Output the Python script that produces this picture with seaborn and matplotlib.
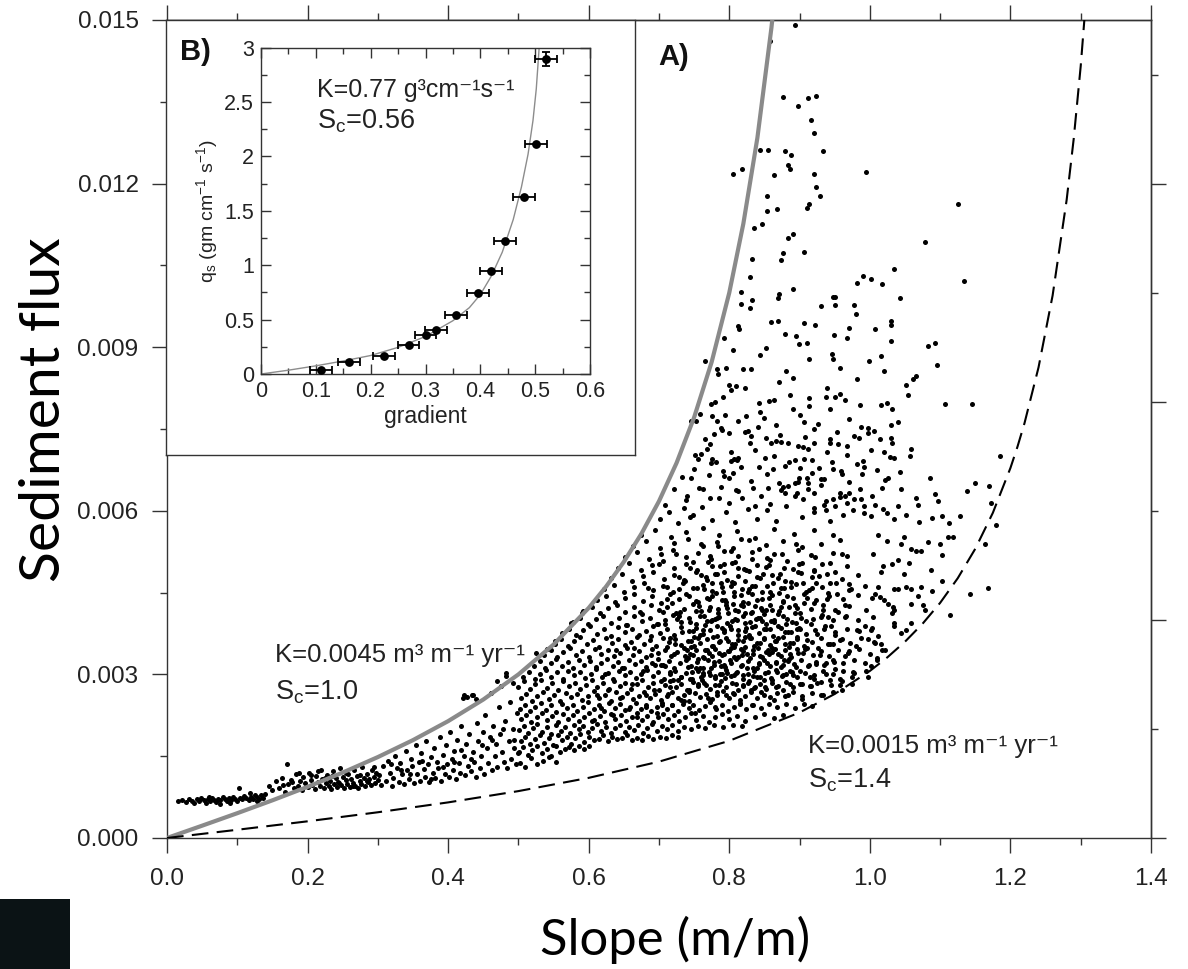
import numpy as np
import pandas as pd
import matplotlib
matplotlib.use("Agg")
import matplotlib.pyplot as plt
import seaborn as sns
from matplotlib.patches import Rectangle
from matplotlib.ticker import MultipleLocator

# ---------------- model curves (main panel A) ----------------
gray_slope = [0.0, 0.05, 0.1, 0.15, 0.2, 0.25, 0.3, 0.35, 0.4, 0.45, 0.5, 0.55, 0.6, 0.625,
              0.65, 0.675, 0.7, 0.725, 0.75, 0.775, 0.8, 0.82, 0.84, 0.86, 0.865]
gray_flux = [0.0, 0.000226, 0.000455, 0.000691, 0.000938, 0.0012, 0.001484, 0.001795, 0.002143,
             0.002539, 0.003, 0.003548, 0.004219, 0.004615, 0.005065, 0.00558, 0.006176, 0.006878,
             0.007714, 0.008732, 0.01, 0.011264, 0.01284, 0.014862, 0.01546]
dash_slope = [0.0, 0.1, 0.2, 0.3, 0.4, 0.5, 0.6, 0.7, 0.8, 0.9, 0.95, 1.0, 1.025, 1.05, 1.075, 1.1,
              1.125, 1.15, 1.175, 1.2, 1.21, 1.22, 1.24, 1.26, 1.28, 1.29, 1.3, 1.31]
dash_flux = [0.0, 0.000151, 0.000306, 0.000472, 0.000653, 0.00086, 0.001103, 0.0014, 0.001782,
             0.002301, 0.002641, 0.003063, 0.003314, 0.0036, 0.003929, 0.004312, 0.004763, 0.005304,
             0.005963, 0.006785, 0.007174, 0.007606, 0.008631, 0.009947, 0.011702, 0.012817,
             0.014155, 0.01579]

# ---------------- inset (panel B) ----------------
grad = [0.109, 0.160, 0.225, 0.269, 0.300, 0.319, 0.356, 0.395, 0.419, 0.445, 0.480, 0.502, 0.519]
qs = [0.04, 0.107, 0.17, 0.27, 0.36, 0.40, 0.545, 0.744, 0.949, 1.227, 1.625, 2.115, 2.896]
grad_err = [0.02, 0.02, 0.02, 0.02, 0.02, 0.02, 0.02, 0.02, 0.02, 0.02, 0.02, 0.02, 0.02]
qs_err = [0, 0, 0, 0, 0, 0, 0, 0, 0, 0, 0, 0, 0.06]
fit_grad = [0.0, 0.05, 0.1, 0.15, 0.2, 0.25, 0.3, 0.35, 0.38, 0.4, 0.42, 0.44, 0.46, 0.475,
            0.487, 0.496, 0.502, 0.507, 0.51]
fit_qs = [0.0, 0.035, 0.075, 0.12, 0.17, 0.245, 0.345, 0.49, 0.61, 0.73, 0.9, 1.12, 1.42, 1.72,
          2.02, 2.33, 2.62, 2.98, 3.2]

# ---------------- scatter points: pairs (slope x1000, flux x1e5) ----------------
band_a = [16,67, 22,70, 27,66, 31,72, 35,68, 38,64, 42,71, 45,67, 49,73, 52,69, 55,65, 58,71, 61,68,
          64,74, 67,70, 70,66, 73,72, 76,69, 79,75, 82,71, 85,67, 88,73, 91,70, 94,76, 97,72, 100,68,
          103,92, 104,74, 107,71, 110,77, 113,73, 116,69, 119,76, 122,72, 125,79, 128,75, 131,71,
          134,78, 137,74, 140,81, 60,76, 75,63, 90,65, 118,82, 128,68]
band_b = [145,96, 150,88, 155,104, 160,92, 163,110, 168,85, 171,136, 172,99, 176,107, 180,91, 183,118,
          186,96, 189,104, 192,88, 194,112, 197,100, 200,93, 202,120, 205,106, 207,97, 210,89, 212,114,
          215,102, 217,95, 219,125, 221,108, 224,92, 226,100, 228,116, 230,96, 232,105, 234,90, 236,122,
          238,99, 240,110, 242,94, 244,103, 246,128, 248,97, 250,112, 252,91, 254,106, 256,99, 258,118,
          260,94, 262,108, 264,101, 266,124, 268,96, 270,113, 272,92, 274,105, 276,99, 278,130, 280,110,
          282,95, 284,118, 286,102, 288,108, 290,97, 292,125, 294,112, 296,100, 298,120, 300,106,
          205,116, 215,123, 225,110, 235,114, 245,100, 255,120, 265,95, 275,115, 285,104, 295,131,
          188,120, 178,102, 165,97]
band_c = [302,115, 305,98, 308,132, 311,105, 314,142, 317,120, 320,96, 322,110, 325,150, 327,128,
          330,103, 332,138, 335,117, 337,99, 340,160, 342,125, 344,108, 347,145, 349,132, 351,100,
          354,170, 356,118, 358,140, 360,105, 362,155, 365,126, 367,112, 369,178, 371,135, 373,102,
          375,148, 378,120, 380,165, 382,110, 384,140, 386,128, 388,185, 390,105, 392,152, 395,118,
          397,170, 399,135, 401,112, 403,195, 405,145, 407,125, 409,160, 411,108, 413,180, 415,138,
          417,120, 419,205, 421,257, 422,150, 424,115, 426,172, 428,132, 430,190, 432,122, 434,263,
          435,158, 437,140, 439,112, 441,210, 443,178, 445,128, 447,150, 449,195, 451,118, 453,225,
          455,165, 457,138, 459,185, 461,266, 462,125, 464,205, 466,150, 468,172, 470,130, 472,240,
          474,190, 475,278, 477,158, 479,140, 481,215, 482,297, 484,128, 486,178, 488,250, 490,145,
          492,200, 494,165, 496,135, 498,230, 500,155, 318,135, 333,125, 346,118, 363,142, 376,108,
          393,130, 408,140, 418,162, 433,145, 448,170, 463,180, 478,200, 493,180,
          423,263, 427,258, 436,262, 440,255, 470,287, 483,303, 525,340, 541,347, 552,362, 575,395,
          590,412]
cloud_low = [502,138, 510,131, 518,146, 527,135, 535,142, 544,149, 553,140,
             501,158, 507,166, 514,153, 520,162, 527,169, 533,156, 540,164, 546,151, 553,168, 559,157,
             566,163, 572,167, 579,161, 586,168, 593,164, 601,169,
             503,178, 510,186, 517,172, 523,182, 530,189, 536,175, 543,184, 549,171, 556,188, 562,179,
             569,185, 575,173, 581,183, 588,190, 594,176, 601,186, 607,179, 614,181, 620,189, 627,177,
             633,185, 640,182, 647,183, 654,188, 661,179, 668,184, 676,180, 684,187, 692,182, 701,186,
             710,183, 718,188, 727,185,
             501,198, 508,205, 514,192, 521,201, 527,209, 534,195, 540,204, 547,191, 553,207, 560,197,
             566,203, 573,193, 579,208, 586,199, 592,205, 599,194, 605,202, 612,209, 618,196, 625,204,
             631,192, 638,201, 644,208, 651,195, 657,203, 664,198, 670,207, 677,193, 683,202, 690,209,
             697,197, 704,205, 711,200, 719,207, 727,196, 736,204, 745,199, 755,206, 766,201, 778,207,
             791,203, 805,208, 818,205,
             504,218, 511,226, 518,213, 526,222, 533,229, 541,216, 548,224, 556,212, 563,228, 571,219,
             578,225, 586,214, 593,221, 601,229, 608,217, 616,224, 623,212, 631,227, 638,219, 646,225,
             653,214, 661,222, 668,229, 676,216, 683,224, 691,213, 698,221, 706,228, 713,218, 721,225,
             729,214, 737,222, 745,229, 753,217, 762,224, 771,213, 780,221, 790,227, 800,218, 811,224,
             823,215, 836,222, 850,228, 864,220, 877,226,
             502,236, 509,244, 517,232, 524,241, 532,248, 539,235, 547,243, 554,231, 562,246, 569,238,
             577,244, 584,233, 592,240, 599,249, 607,236, 614,243, 622,232, 629,247, 637,239, 644,245,
             652,234, 659,241, 667,248, 674,237, 682,244, 689,233, 697,240, 704,247, 712,236, 719,243,
             727,232, 734,246, 742,238, 749,244, 757,235, 765,242, 773,249, 781,237, 789,244, 798,233,
             806,240, 815,247, 824,236, 834,243, 845,238, 856,246, 868,240, 880,245, 893,239, 906,246,
             918,242,
             503,256, 511,264, 519,252, 527,261, 535,268, 543,255, 551,263, 559,251, 567,266, 575,258,
             583,264, 591,253, 599,260, 607,269, 615,256, 623,263, 631,252, 639,267, 647,259, 655,265,
             663,254, 671,261, 679,268, 687,257, 695,264, 703,253, 711,260, 719,267, 727,256, 735,263,
             743,252, 751,266, 759,258, 767,264, 775,255, 783,262, 791,269, 799,257, 807,264, 815,253,
             823,260, 831,267, 840,256, 849,263, 858,258, 868,266, 879,260, 891,267, 904,261, 918,266,
             933,262, 947,267,
             492,284, 500,276, 508,288, 516,273, 524,282, 532,289, 540,275, 548,284, 556,271, 564,287,
             572,278, 580,285, 588,273, 596,281, 604,289, 612,276, 620,284, 628,272, 636,287, 644,279,
             652,285, 660,274, 668,282, 676,289, 684,277, 692,284, 700,272, 708,280, 716,287, 724,276,
             732,283, 740,271, 748,286, 756,278, 764,284, 772,274, 780,281, 788,288, 796,277, 804,284,
             812,272, 820,280, 828,287, 836,276, 844,283, 852,273, 861,285, 870,279, 880,286, 891,276,
             903,283, 916,278, 930,286, 945,281, 960,287, 975,283]
cloud_mid = [507,296, 515,305, 523,292, 531,301, 539,308, 547,295, 555,304, 563,291, 571,307, 579,298,
             587,304, 595,293, 603,300, 611,309, 619,296, 627,303, 635,292, 643,307, 651,299, 659,305,
             667,294, 675,301, 683,308, 691,297, 699,304, 707,292, 715,300, 723,307, 731,296, 739,303,
             747,291, 755,306, 763,298, 771,304, 779,294, 787,301, 795,308, 803,297, 811,304, 819,292,
             827,300, 835,307, 843,296, 851,303, 859,293, 868,305, 877,299, 887,306, 897,296, 908,303,
             920,298, 933,306, 947,300, 962,307, 978,302, 994,306,
             522,316, 530,324, 538,312, 546,321, 554,328, 562,315, 570,323, 578,311, 586,327, 594,318,
             602,324, 610,313, 618,320, 626,329, 634,316, 642,323, 650,312, 658,327, 666,319, 674,325,
             682,314, 690,321, 698,328, 706,317, 714,324, 722,312, 730,320, 738,327, 746,316, 754,323,
             762,311, 770,326, 778,318, 786,324, 794,314, 802,321, 810,328, 818,317, 826,324, 834,312,
             842,320, 850,327, 858,316, 866,323, 874,313, 883,325, 892,319, 902,326, 912,316, 923,323,
             935,318, 948,326, 962,320, 977,327, 993,321, 1010,326,
             537,336, 546,344, 555,332, 564,341, 573,348, 582,335, 591,343, 600,331, 609,347, 618,338,
             627,344, 636,333, 645,340, 654,349, 663,336, 672,343, 681,332, 690,347, 699,339, 708,345,
             717,334, 726,341, 735,348, 744,337, 753,344, 762,332, 771,340, 780,347, 789,336, 798,343,
             807,331, 816,346, 825,338, 834,344, 843,334, 852,341, 861,348, 870,337, 879,344, 888,332,
             898,340, 908,347, 919,336, 930,343, 942,333, 955,345, 969,339, 984,346, 1000,337, 1017,344,
             552,356, 561,364, 570,352, 579,361, 588,368, 597,355, 606,363, 615,351, 624,367, 633,358,
             642,364, 651,353, 660,360, 669,369, 678,356, 687,363, 696,352, 705,367, 714,359, 723,365,
             732,354, 741,361, 750,368, 759,357, 768,364, 777,352, 786,360, 795,367, 804,356, 813,363,
             822,351, 831,366, 840,358, 849,364, 858,354, 867,361, 876,368, 886,357, 896,364, 907,352,
             918,360, 930,367, 943,356, 957,363, 972,358, 988,366, 1006,359,
             562,376, 572,384, 582,372, 592,381, 602,388, 612,375, 622,383, 632,371, 642,387, 652,378,
             662,384, 672,373, 682,380, 692,389, 702,376, 712,383, 722,372, 732,387, 742,379, 752,385,
             762,374, 772,381, 782,388, 792,377, 802,384, 812,372, 822,380, 832,387, 842,376, 852,383,
             862,371, 873,386, 884,378, 896,384, 909,374, 922,381, 936,388, 951,377, 967,384, 984,379,
             1003,386,
             577,396, 588,404, 599,392, 610,401, 621,408, 632,395, 643,403, 654,391, 665,407, 676,398,
             687,404, 698,393, 709,400, 720,409, 731,396, 742,403, 753,392, 764,407, 775,399, 786,405,
             797,394, 808,401, 819,408, 830,397, 841,404, 852,392, 864,400, 876,407, 889,396, 902,403,
             916,393, 931,405, 947,399, 964,406, 983,400, 1004,406,
             592,416, 604,424, 616,412, 628,421, 640,428, 652,415, 664,423, 676,411, 688,427, 700,418,
             712,424, 724,413, 736,420, 748,429, 760,416, 772,423, 784,412, 796,427, 808,419, 820,425,
             832,414, 845,421, 858,428, 871,417, 885,424, 900,412, 916,420, 933,427, 951,418, 971,425,
             994,419]
cloud_high = [612,436, 625,444, 638,432, 651,441, 664,448, 677,435, 690,443, 703,431, 716,447, 729,438,
              742,444, 755,433, 768,440, 781,449, 794,436, 807,443, 820,432, 833,447, 847,439, 861,445,
              876,434, 891,441, 907,448, 924,437, 942,444, 962,438, 983,445, 1003,440,
              622,456, 636,464, 650,452, 664,461, 678,468, 692,455, 706,463, 720,451, 734,467, 748,458,
              762,464, 776,453, 790,460, 804,469, 818,456, 832,463, 847,452, 862,467, 878,459, 895,465,
              913,454, 932,461, 952,468, 973,457, 993,463,
              632,476, 647,484, 662,472, 677,481, 692,488, 707,475, 722,483, 737,471, 752,487, 767,478,
              782,484, 797,473, 812,480, 828,489, 844,476, 861,483, 879,472, 898,487, 918,479, 939,485,
              961,475, 983,482,
              642,496, 658,504, 674,492, 690,501, 706,508, 722,495, 738,503, 754,491, 770,507, 787,498,
              804,504, 821,493, 839,500, 858,509, 878,496, 899,503, 921,492, 944,505, 967,499,
              652,516, 669,524, 686,512, 703,521, 720,528, 738,515, 756,523, 774,511, 793,527, 812,518,
              832,524, 853,513, 875,520, 898,529, 922,516, 947,523, 968,518,
              663,536, 682,544, 701,532, 721,541, 741,548, 762,535, 783,543, 805,531, 828,547, 852,538,
              877,544, 903,533, 930,540, 957,546,
              674,556, 695,564, 717,552, 739,561, 762,568, 786,555, 811,563, 837,551, 864,567, 892,558,
              921,564, 948,555]
core_pts = [681,262, 694,318, 703,287, 712,351, 719,243, 725,402, 731,296, 737,333, 742,268, 748,379,
            752,311, 757,425, 761,289, 766,344, 770,257, 774,398, 778,322, 782,371, 786,281, 790,436,
            793,338, 797,302, 801,389, 805,265, 808,355, 812,417, 816,316, 819,278, 823,368, 827,452,
            830,330, 834,297, 838,401, 841,349, 845,268, 849,384, 853,321, 857,441, 861,289, 865,362,
            869,410, 873,334, 877,272, 881,393, 885,351, 889,305, 893,427, 897,368, 901,283, 905,340,
            909,398, 913,317, 917,459, 921,292, 925,375, 929,336, 933,418, 937,301, 941,356, 945,389,
            949,323, 953,447, 957,281, 961,365, 966,408, 971,342, 976,305, 981,381,
            688,371, 697,229, 706,415, 715,276, 722,338, 729,456, 735,251, 741,313, 746,362, 751,229,
            755,283, 759,407, 764,330, 768,474, 772,299, 776,352, 780,241, 784,420, 788,316, 792,381,
            795,262, 799,343, 803,462, 807,298, 811,399, 815,246, 818,335, 822,413, 826,284, 829,366,
            833,243, 836,425, 840,311, 844,357, 848,484, 851,276, 855,344, 859,398, 863,253, 867,321,
            871,449, 875,297, 879,378, 883,262, 887,337, 891,493, 895,314, 899,386, 903,255, 907,431,
            911,349, 915,278, 919,402, 923,319, 927,480, 931,263, 935,384, 939,438, 943,289, 947,355,
            951,310, 955,414, 960,272, 965,333, 970,455, 975,296, 980,352,
            605,215, 612,262, 618,238, 623,301, 629,274, 634,226, 639,344, 644,256, 648,312, 653,391,
            657,237, 661,283, 665,349, 669,222, 673,415, 677,306, 681,241, 685,458, 689,335, 693,271,
            697,392, 700,502, 704,243, 708,316, 712,439, 716,366, 720,289, 724,521, 728,408, 732,253,
            736,474, 740,345, 744,292, 748,507, 752,434, 756,366, 760,540, 764,457, 768,398, 772,517,
            776,443, 780,485, 784,536, 788,468, 792,503, 797,422, 802,527, 807,452, 812,495, 817,548,
            822,471, 827,431, 832,511, 837,462, 842,530, 847,419, 852,497, 858,452, 864,521, 870,476,
            876,433, 882,508, 888,461, 895,540, 902,486, 909,452, 916,519, 924,468, 932,503, 941,449,
            950,487, 960,521, 970,466,
            741,330, 744,396, 747,305, 750,352, 753,417, 756,329, 759,372, 762,302, 765,391, 768,345,
            771,418, 774,312, 777,369, 780,297, 783,404, 786,340, 789,386, 792,318, 795,433, 798,361,
            801,327, 804,398, 807,351, 810,303, 813,381, 816,428, 819,342, 822,394, 825,311, 828,372,
            831,413, 834,337, 837,389, 840,296, 843,403, 846,332, 849,367, 852,419, 855,305, 858,384,
            861,341, 864,396, 867,308, 870,367, 873,424, 876,318, 879,355, 882,402, 885,329, 888,378,
            891,299, 894,412, 897,347, 900,383]
core_extra = [703,318, 708,392, 713,264, 718,431, 723,355, 727,289, 733,377, 738,447, 743,272, 749,335,
              754,458, 758,312, 763,381, 767,281, 771,439, 775,333, 779,402, 783,268, 787,361, 791,451,
              794,293, 798,412, 802,348, 806,467, 809,283, 813,331, 817,445, 820,298, 824,386, 828,457,
              831,271, 835,352, 839,437, 842,319, 846,398, 850,289, 854,463, 857,337, 861,418, 866,276,
              870,389, 874,459, 878,327, 882,443, 887,283, 891,358, 896,421, 900,306, 905,467, 910,363,
              915,296, 920,431, 926,348, 932,409, 938,321, 944,467, 950,372, 957,291, 964,428,
              716,305, 730,415, 745,350, 760,295, 775,468, 790,300, 805,430, 820,362, 835,275, 850,410,
              865,346, 880,300, 895,395, 910,440, 925,285, 940,405, 712,460, 728,478, 744,495, 760,482,
              776,498, 792,487, 808,506, 824,492, 840,478, 856,500, 872,485, 888,470, 904,505, 920,490]
fill_pts = [702,585, 709,611, 714,598, 721,640, 727,577, 733,662, 738,619, 744,588, 751,703, 757,642,
            761,607, 766,731, 771,665, 776,583, 781,689, 785,623, 790,748, 795,597, 799,660, 803,707,
            808,579, 812,636, 817,681, 822,744, 826,603, 831,655, 836,712, 840,585, 845,628, 849,770,
            854,667, 858,612, 863,701, 867,581, 872,739, 876,644, 881,608, 885,690, 890,786, 894,627,
            899,661, 903,588, 908,735, 912,640, 917,693, 921,597, 926,760, 930,648, 935,611, 939,707,
            944,582, 948,676, 953,745, 957,625, 962,593, 967,718, 971,652, 976,602, 981,685, 986,640,
            991,596, 997,751, 1003,628, 1010,675, 1018,603, 1026,660, 1034,585, 1045,640, 1057,700,
            1070,580, 1085,660, 1097,618, 760,704, 784,851, 823,826, 852,733, 887,812]
upper_pts = [894,1490, 858,1461, 876,1359, 912,1357, 924,1361, 898,1343, 916,1316, 921,1293,
             844,1262, 855,1262, 879,1259, 888,1253, 933,1259,
             805,1218, 818,1226, 883,1234, 886,1226, 864,1216, 921,1218, 994,1222,
             924,1193, 929,1178, 853,1178, 1125,1163, 913,1163, 911,1156, 853,1150, 868,1153,
             835,1118, 847,1126, 883,1101, 891,1107, 1078,1093, 906,1075, 877,1072, 874,1060, 833,1062,
             1035,1044, 829,1028, 990,1030, 1002,1025, 981,1017, 1017,1016, 1134,1022, 891,1006,
             816,1002, 871,997, 869,991, 816,979, 832,987, 829,972, 948,992, 951,992, 951,978, 931,975,
             978,977, 980,961, 1043,990, 860,946, 870,948, 906,944, 922,940, 813,939, 814,933, 1030,948,
             1030,940, 970,935, 1007,933, 879,924, 895,920, 899,905, 910,907, 949,922, 968,917, 793,917,
             1030,912, 1083,902, 1093,907, 805,895, 844,885, 852,898, 914,878, 946,887, 948,878,
             957,861, 999,875, 1016,883, 1020,856, 1095,867, 766,875, 783,860, 796,861, 819,860,
             831,860, 881,856, 891,843, 871,837, 982,842, 1066,848, 1062,842, 1052,830, 1054,812,
             800,830, 810,829, 791,809, 803,822, 774,796, 780,799, 842,797, 857,801, 864,804, 914,806,
             913,792, 939,826, 938,808, 950,808, 958,815, 965,803, 944,787, 986,794, 1016,794, 1024,798,
             1031,787, 1107,795, 1145,795, 746,765, 753,765, 759,777, 775,773, 783,765, 794,775,
             813,765, 824,773, 844,781, 841,754, 867,757, 900,775, 907,763, 921,750, 970,769, 988,754,
             997,742, 1006,746, 1030,757, 1040,762, 788,751, 778,740, 799,742, 831,738, 830,724,
             827,746, 978,738, 984,734, 1014,732, 1030,734, 1031,725, 772,722, 769,713, 860,725,
             867,728, 873,726, 883,724, 898,719, 905,717, 912,713, 920,725, 943,725, 955,722, 1058,714,
             944,732, 967,703, 1001,711, 1020,708, 1028,699, 1035,697, 1043,671, 756,695, 775,695,
             774,688, 802,691, 806,695, 812,697, 851,697, 842,681, 862,676, 879,682, 894,693, 901,679,
             907,695, 917,670, 928,679, 935,659, 946,689, 959,673, 961,668, 990,691, 992,681, 989,667,
             1022,656, 1149,651, 1138,636, 1093,630, 746,661, 750,676, 791,673, 793,664, 805,670,
             811,694, 740,627, 735,605, 748,593, 762,640, 772,624, 788,644, 799,615, 818,624, 810,639,
             834,642, 836,608, 855,642, 854,602, 871,651, 873,639, 879,633, 884,645, 893,651, 898,653,
             897,633, 905,621, 910,660, 912,651, 920,605, 931,659, 921,633, 938,618, 937,602, 948,621,
             950,608, 958,633, 964,627, 968,615, 971,633, 978,621, 988,621, 992,609, 1002,590,
             1007,610, 1017,642, 1025,596, 1040,609, 1052,593, 1066,624, 1068,610, 1088,587, 1102,590,
             1112,578, 1128,590]
right_pts = [1164,540, 1180,574, 1173,614, 1170,646, 1185,700, 1111,552, 1119,552, 1083,542, 1100,539,
             1102,519, 1049,552, 1059,530, 1066,527, 1073,527, 1045,539, 1087,492, 1103,471, 1142,447,
             1168,459, 1114,409, 1076,427, 1078,418, 1059,429, 1069,443, 1088,453, 1045,376, 1035,394,
             1031,412, 1035,418, 1052,461, 1059,457, 1073,460, 1035,457, 1040,457, 1049,484, 1031,502,
             1016,487, 1019,499, 1012,460, 1008,448, 1014,442, 1020,436, 1026,430, 1033,424, 1059,394,
             1052,382, 1035,388, 1007,357, 1016,355, 1012,370, 1002,382, 997,364, 993,388, 1002,315,
             997,296, 1010,330, 1022,345, 1005,520, 1025,545, 1040,510, 1012,555, 1055,505]

# ---------------- assemble scatter table ----------------
groups = [band_a, band_b, band_c, cloud_low, cloud_mid, cloud_high, core_pts, core_extra, fill_pts,
          upper_pts, right_pts]
pairs = np.concatenate([np.asarray(g, dtype=float).reshape(-1, 2) for g in groups])
scatter_df = pd.DataFrame({"slope": pairs[:, 0] / 1000.0, "flux": pairs[:, 1] / 1e5})

# ---------------- style ----------------
sns.set_theme(style="ticks")
plt.rcParams["font.family"] = ["Liberation Sans", "DejaVu Sans"]
plt.rcParams["mathtext.fontset"] = "custom"
plt.rcParams["mathtext.rm"] = "Liberation Sans"
plt.rcParams["mathtext.it"] = "Liberation Sans:italic"
plt.rcParams["mathtext.bf"] = "Liberation Sans:bold"
TXT = "#222222"
SPINE = "#333333"
FAM = ["Liberation Sans", "DejaVu Sans"]

W, H = 1188, 969
fig = plt.figure(figsize=(W / 100, H / 100), dpi=100)
fig.patch.set_facecolor("white")

def fx(px):
    return px / W

def fy(py):
    return 1 - py / H

# ---------------- main axes ----------------
ax = fig.add_axes([fx(167), fy(838), (1151 - 167) / W, (838 - 20) / H])
ax.set_facecolor("white")
sns.scatterplot(data=scatter_df, x="slope", y="flux", ax=ax, s=13, color="black",
                linewidth=0, legend=False, zorder=3)
sns.lineplot(x=gray_slope, y=gray_flux, ax=ax, color="#8a8a8a", linewidth=3.0,
             sort=False, estimator=None, zorder=4)
sns.lineplot(x=dash_slope, y=dash_flux, ax=ax, color="black", linewidth=1.5,
             sort=False, estimator=None, zorder=4)
ax.lines[-1].set_dashes((8, 4))

ax.set_xlim(0, 1.4)
ax.set_ylim(0, 0.015)
xt = [0.0, 0.2, 0.4, 0.6, 0.8, 1.0, 1.2, 1.4]
yt = [0.0, 0.003, 0.006, 0.009, 0.012, 0.015]
ax.set_xticks(xt)
ax.set_xticklabels([f"{v:.1f}" for v in xt])
ax.set_yticks(yt)
ax.set_yticklabels([f"{v:.3f}" for v in yt])
ax.xaxis.set_minor_locator(MultipleLocator(0.1))
ax.yaxis.set_minor_locator(MultipleLocator(0.0015))
ax.tick_params(which="major", direction="out", length=10.5, width=1.0, color=SPINE,
               labelsize=17.5, labelcolor=TXT)
ax.tick_params(axis="y", which="major", pad=10)
ax.tick_params(axis="x", which="major", pad=11)
ax.tick_params(which="minor", direction="out", length=5, width=1.0, color=SPINE)
ax.set_xlabel("")
ax.set_ylabel("")
for sp in ax.spines.values():
    sp.set_linewidth(1.0)
    sp.set_color(SPINE)
    sp.set_visible(True)

top = ax.secondary_xaxis("top")
top.set_xticks(xt)
top.xaxis.set_minor_locator(MultipleLocator(0.1))
top.tick_params(which="major", direction="out", length=10.5, width=1.0, color=SPINE, labeltop=False)
top.tick_params(which="minor", direction="out", length=5, width=1.0, color=SPINE)
top.spines["top"].set_color(SPINE)
top.spines["top"].set_linewidth(1.0)

right = ax.secondary_yaxis("right")
right.set_yticks([0.0, 0.004, 0.008, 0.012])
right.set_yticks([0.002, 0.006, 0.010, 0.014], minor=True)
right.tick_params(which="major", direction="out", length=10.5, width=1.0, color=SPINE, labelright=False)
right.tick_params(which="minor", direction="out", length=5, width=1.0, color=SPINE)
right.spines["right"].set_color(SPINE)
right.spines["right"].set_linewidth(1.0)

# annotations in panel A
fig.text(fx(658), fy(57), "A)", fontsize=21, fontweight="bold", color="#111111", va="center", ha="left")
fig.text(fx(275), fy(655), "K=0.0045 m³ m⁻¹ yr⁻¹", fontsize=18.5, color=TXT, family=FAM,
         va="center", ha="left")
fig.text(fx(275), fy(692), r"S$_\mathrm{c}$=1.0", fontsize=19.5, color=TXT, va="center", ha="left")
fig.text(fx(808), fy(746), "K=0.0015 m³ m⁻¹ yr⁻¹", fontsize=18.5, color=TXT, family=FAM,
         va="center", ha="left")
fig.text(fx(808), fy(780), r"S$_\mathrm{c}$=1.4", fontsize=19.5, color=TXT, va="center", ha="left")

# big axis titles
fig.text(fx(675), fy(940), "Slope (m/m)", fontsize=36.5, family="Lato", color="black",
         ha="center", va="center")
fig.text(fx(45), fy(410), "Sediment flux", fontsize=41, family="Lato", color="black",
         ha="center", va="center", rotation=90)

# ---------------- inset box ----------------
box = fig.add_axes([fx(166), fy(455), (635 - 166) / W, (455 - 20) / H])
box.set_facecolor("white")
box.set_xticks([])
box.set_yticks([])
for sp in box.spines.values():
    sp.set_linewidth(1.0)
    sp.set_color(SPINE)

ins = fig.add_axes([fx(261), fy(374), (590 - 261) / W, (374 - 47.7) / H])
ins.set_facecolor("white")
sns.lineplot(x=fit_grad, y=fit_qs, ax=ins, color="#8c8c8c", linewidth=1.0, sort=False,
             estimator=None, zorder=2)
ins.errorbar(grad, qs, xerr=grad_err, yerr=qs_err, fmt="none", ecolor="black", elinewidth=1.3,
             capsize=3, capthick=1.3, zorder=3)
sns.scatterplot(x=grad, y=qs, ax=ins, s=40, color="black", linewidth=0, zorder=4, legend=False)
ins.set_xlim(0, 0.6)
ins.set_ylim(0, 3)
ixt = [0, 0.1, 0.2, 0.3, 0.4, 0.5, 0.6]
iyt = [0, 0.5, 1, 1.5, 2, 2.5, 3]
ins.set_xticks(ixt)
ins.set_xticklabels(["0", "0.1", "0.2", "0.3", "0.4", "0.5", "0.6"])
ins.set_yticks(iyt)
ins.set_yticklabels(["0", "0.5", "1", "1.5", "2", "2.5", "3"])
ins.xaxis.set_minor_locator(MultipleLocator(0.05))
ins.yaxis.set_minor_locator(MultipleLocator(0.25))
ins.tick_params(which="major", direction="in", length=7, width=1.0, color=SPINE,
                top=True, right=True, labelsize=15.5, labelcolor=TXT, pad=5)
ins.tick_params(which="minor", direction="in", length=4, width=1.0, color=SPINE, top=True, right=True)
for sp in ins.spines.values():
    sp.set_linewidth(1.0)
    sp.set_color(SPINE)
ins.set_xlabel("gradient", fontsize=16.5, color=TXT, labelpad=2)
ins.set_ylabel(r"q$_\mathrm{s}$ (gm cm$^{-1}$ s$^{-1}$)", fontsize=14, color=TXT, labelpad=3)

fig.text(fx(180), fy(52), "B)", fontsize=21, fontweight="bold", color="#111111", va="center", ha="left")
fig.text(fx(317), fy(90), "K=0.77 g³cm⁻¹s⁻¹", fontsize=18, color=TXT, family=FAM,
         va="center", ha="left")
fig.text(fx(317), fy(121), r"S$_\mathrm{c}$=0.56", fontsize=19.5, color=TXT, va="center", ha="left")

# small dark image fragment at bottom-left
fig.add_artist(Rectangle((0, 0), 70 / W, 70 / H, transform=fig.transFigure,
                         facecolor="#0b1315", edgecolor="none"))

fig.savefig("out.png", dpi=100)
